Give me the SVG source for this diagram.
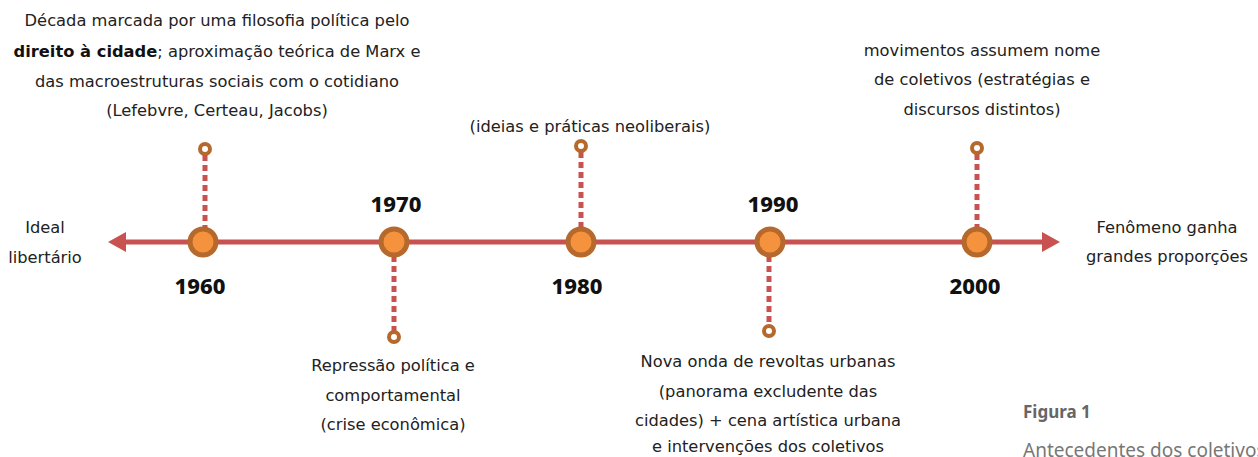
<svg xmlns="http://www.w3.org/2000/svg" width="1258" height="457" viewBox="0 0 1258 457">
<defs>
<style>
.t{font-family:"DejaVu Sans","Noto Sans",sans-serif;font-size:16.3px;fill:#222;text-anchor:middle}
.y{font-family:"Noto Sans","Open Sans",sans-serif;font-size:22px;font-weight:800;fill:#111;text-anchor:middle}
.axis{stroke:#c85250;stroke-width:5;fill:none}
.dash{stroke:#c85250;stroke-width:5;stroke-dasharray:6 4;fill:none}
.node{fill:#f5923e;stroke:#b5692c;stroke-width:5}
.pin{fill:#fff;stroke:#b5692c;stroke-width:4}
</style>
</defs>
<rect width="1258" height="457" fill="#fff"/>
<g id="connectors">
<line class="axis" x1="122" y1="242" x2="1046" y2="242"/>
<polygon points="108,242 126,232 126,252" fill="#c85250"/>
<polygon points="1060,242 1042,232 1042,252" fill="#c85250"/>
<line class="dash" x1="205" y1="155" x2="205" y2="228"/>
<line class="dash" x1="394" y1="256" x2="394" y2="331"/>
<line class="dash" x1="581" y1="152" x2="581" y2="228"/>
<line class="dash" x1="769" y1="256" x2="769" y2="325"/>
<line class="dash" x1="977" y1="154" x2="977" y2="228"/>
</g>
<g id="n1960">
<circle class="node" cx="203" cy="242" r="13"/>
<circle class="pin" cx="205" cy="149" r="5"/>
<text class="y" x="200" y="294">1960</text>
<text class="t" x="217" y="26">Década marcada por uma filosofia política pelo</text>
<text class="t" x="217" y="57"><tspan font-weight="bold" fill="#111">direito à cidade</tspan>; aproximação teórica de Marx e</text>
<text class="t" x="217" y="87">das macroestruturas sociais com o cotidiano</text>
<text class="t" x="217" y="116">(Lefebvre, Certeau, Jacobs)</text>
</g>
<g id="n1970">
<circle class="node" cx="394" cy="242" r="13"/>
<circle class="pin" cx="394" cy="337" r="5"/>
<text class="y" x="396" y="212">1970</text>
<text class="t" x="393" y="371">Repressão política e</text>
<text class="t" x="393" y="401">comportamental</text>
<text class="t" x="393" y="430">(crise econômica)</text>
</g>
<g id="n1980">
<circle class="node" cx="581" cy="242" r="13"/>
<circle class="pin" cx="581" cy="146" r="5"/>
<text class="y" x="577" y="294">1980</text>
<text class="t" x="590" y="132">(ideias e práticas neoliberais)</text>
</g>
<g id="n1990">
<circle class="node" cx="770" cy="242" r="13"/>
<circle class="pin" cx="769" cy="331" r="5"/>
<text class="y" x="773" y="212">1990</text>
<text class="t" x="768" y="367">Nova onda de revoltas urbanas</text>
<text class="t" x="768" y="397">(panorama excludente das</text>
<text class="t" x="768" y="426">cidades) + cena artística urbana</text>
<text class="t" x="768" y="452">e intervenções dos coletivos</text>
</g>
<g id="n2000">
<circle class="node" cx="977" cy="242" r="13"/>
<circle class="pin" cx="977" cy="148" r="5"/>
<text class="y" x="975" y="294">2000</text>
<text class="t" x="982" y="56">movimentos assumem nome</text>
<text class="t" x="982" y="85">de coletivos (estratégias e</text>
<text class="t" x="982" y="115">discursos distintos)</text>
</g>
<g id="left-end">
<text class="t" x="45" y="233">Ideal</text>
<text class="t" x="45" y="263">libertário</text>
</g>
<g id="right-end">
<text class="t" x="1167" y="233">Fenômeno ganha</text>
<text class="t" x="1167" y="262">grandes proporções</text>
</g>
<g id="caption">
<text x="1023" y="418" font-family="'Noto Sans',sans-serif" font-size="17" font-weight="bold" fill="#666">Figura 1</text>
<text x="1023" y="457" font-family="'Noto Sans',sans-serif" font-size="19" fill="#777">Antecedentes dos coletivos</text>
</g>
</svg>
